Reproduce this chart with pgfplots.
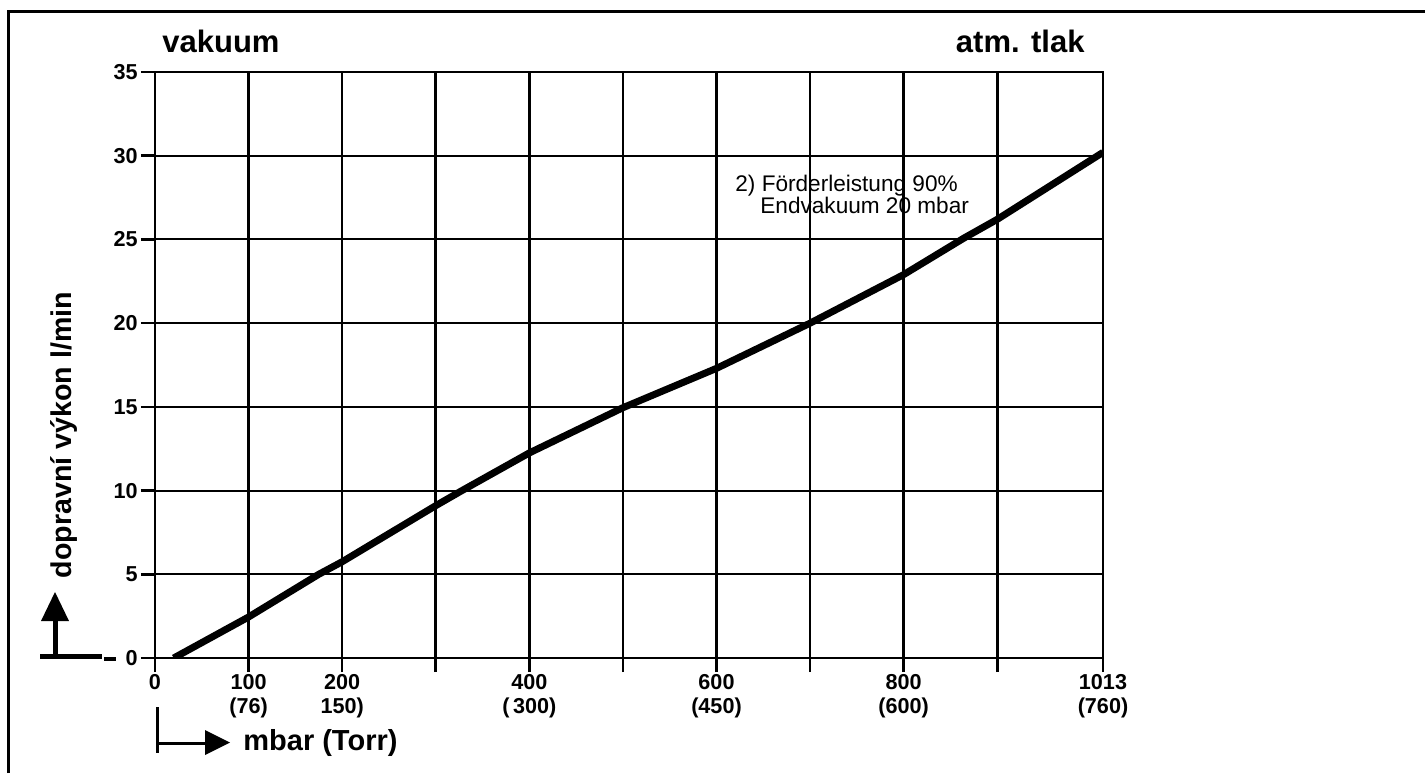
\documentclass[border=0pt]{standalone}
\usepackage{pgfplots}
\pgfplotsset{compat=1.18}
\usepackage{fontspec}
\setmainfont{Liberation Sans}
\begin{document}
\begin{tikzpicture}
\path[use as bounding box] (0,0) rectangle (712.5pt,-386.5pt);
\begin{axis}[
  at={(77.5pt,-329pt)}, anchor=south west,
  scale only axis, width=474pt, height=293pt,
  xmin=0, xmax=1013, ymin=0, ymax=35,
  xtick={0,100,200,300,400,500,600,700,800,900,1013},
  xticklabels={0,{100\\(76)},{200\\150)},{},{400\\(\,300)},{},{600\\(450)},{},{800\\(600)},{},{1013\\(760)}},
  ytick={0,5,10,15,20,25,30,35},
  grid=major,
  x grid style={black, line width=1.3pt},
  y grid style={black, line width=1pt},
  axis line style={black, line width=1.3pt},
  tick align=outside, major tick length=7pt, tick pos=left,
  tick style={black, line width=1.3pt},
  /pgf/number format/assume math mode=true,
  tick label style={font=\bfseries\fontsize{10.8}{12}\selectfont},
  xticklabel style={align=center, inner sep=1pt},
  yticklabel style={inner sep=1.5pt},
]
\addplot[black, line width=3.5pt, line join=round] coordinates {
  (20,0) (100,2.45) (175,5) (200,5.75) (300,9.1) (328,10) (400,12.25)
  (500,14.95) (600,17.3) (700,20) (800,22.9) (865,25.1) (900,26.2) (1013,30.2)
};
\end{axis}
\begin{scope}[x=0.5pt,y=-0.5pt]
  % frame
  \draw[line width=1.5pt] (8,773) -- (8,11) -- (1425,11);
  % titles
  \node[anchor=base west, inner sep=0, font=\bfseries\fontsize{15.5}{18}\selectfont] at (162,52) {vakuum};
  \node[anchor=base east, inner sep=0, font=\bfseries\fontsize{15.5}{18}\selectfont] at (1085,52) {atm. tlak};
  % annotation
  \node[anchor=base west, inner sep=0, font=\fontsize{11.3}{13}\selectfont] at (735,191) {2) Förderleistung 90\%};
  \node[anchor=base west, inner sep=0, font=\fontsize{11.3}{13}\selectfont] at (760,213) {Endvakuum 20 mbar};
  % y label and arrow
  \node[rotate=90, inner sep=0, font=\bfseries\fontsize{14.3}{17}\selectfont] at (64,435) {dopravní výkon l/min};
  \draw[line width=2.5pt] (40,656) -- (102,656);
  \draw[line width=2.5pt] (55,656) -- (55,618);
  \fill (41,621) -- (69,621) -- (55,592) -- cycle;
  \draw[line width=2pt] (104,659) -- (116,659);
  % x label and arrow
  \draw[line width=1.5pt] (157,707) -- (157,753);
  \draw[line width=1.5pt] (157,743) -- (207,743);
  \fill (205,730) -- (230,742.5) -- (205,755) -- cycle;
  \node[anchor=base west, inner sep=0, font=\bfseries\fontsize{14.5}{17}\selectfont] at (243,750) {mbar (Torr)};
\end{scope}
\end{tikzpicture}
\end{document}
